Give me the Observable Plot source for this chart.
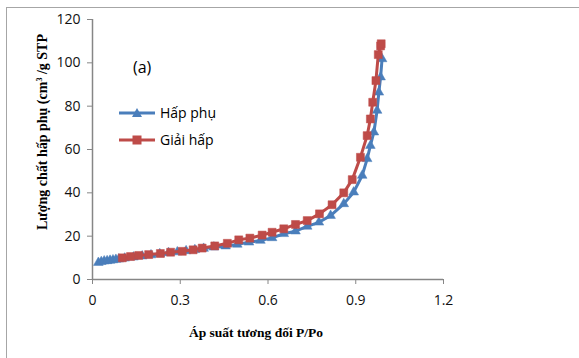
<!DOCTYPE html>
<html>
<head>
<meta charset="utf-8">
<script src="https://cdn.jsdelivr.net/npm/d3@7"></script>
<script src="https://cdn.jsdelivr.net/npm/@observablehq/plot@0.6"></script>
<style>
  body { margin: 0; background: #fff; }
  #wrap { position: relative; width: 579px; height: 358px; overflow: hidden; background: #fff; }
  #frame { position: absolute; left: 6px; top: 7px; width: 600px; height: 400px; border-left: 1.5px solid #a6a6a6; border-top: 1.5px solid #a6a6a6; }
  #chart { position: absolute; left: 0; top: 0; }
  .ylab { position: absolute; left: 43px; top: 132px; transform: translate(-50%, -50%) rotate(-90deg); white-space: nowrap;
          font: bold 14px "Liberation Serif", "DejaVu Serif", serif; color: #000; }
  .xlab { position: absolute; left: 256px; top: 333px; transform: translate(-50%, -50%); white-space: nowrap;
          font: bold 13.5px "Liberation Serif", "DejaVu Serif", serif; color: #000; }
  .tag { position: absolute; left: 133px; top: 56px; font: 16px "Open Sans", "Liberation Sans", sans-serif; color: #000; }
  .legend { position: absolute; left: 118px; top: 99px; font: 14px "Open Sans", "Liberation Sans", sans-serif; color: #000; }
  .legend div { display: flex; align-items: center; height: 27px; }
  .legend svg { margin-right: 4px; }
</style>
</head>
<body>
<div id="wrap">
  <div id="frame"></div>
  <div id="chart"></div>
  <div class="ylab">Lượng chất hấp phụ (cm<sup style="font-size:8px">3</sup> /g STP</div>
  <div class="xlab">Áp suất tương đối P/Po</div>
  <div class="tag">(a)</div>
  <div class="legend" id="legend"></div>
</div>
<script>
// Series names
const seriesNames = ["Hấp phụ", "Giải hấp"];
// Adsorption (Hấp phụ)
const adsX = [0.02,0.03,0.04,0.05,0.06,0.07,0.08,0.09,0.11,0.14,0.17,0.20,0.23,0.26,0.29,0.32,0.35,0.38,0.415,0.455,0.495,0.535,0.574,0.614,0.654,0.694,0.734,0.774,0.814,0.859,0.893,0.922,0.939,0.950,0.962,0.973,0.979,0.985,0.990];
const adsY = [7.8,8.2,8.5,8.6,8.8,9.0,9.2,9.4,9.8,10.3,10.8,11.3,11.8,12.3,12.7,13.2,13.7,14.3,14.9,15.4,16.2,17.2,18.0,19.2,21.1,22.3,24.5,26.4,29.5,34.9,40.3,48.0,55.7,61.8,68.0,78.0,86.4,93.4,101.8];
// Desorption (Giải hấp)
const desX = [0.102,0.130,0.158,0.192,0.232,0.267,0.307,0.344,0.375,0.418,0.461,0.500,0.538,0.580,0.614,0.654,0.694,0.734,0.776,0.819,0.859,0.888,0.916,0.939,0.950,0.958,0.969,0.977,0.985,0.987];
const desY = [10.0,10.6,11.1,11.5,12.0,12.6,13.0,13.7,14.5,15.5,16.7,18.3,19.1,20.5,21.8,23.4,25.4,27.2,30.3,34.5,40.0,46.1,56.4,66.4,74.1,81.8,91.8,103.8,107.8,108.8];
// Tick labels
const xTicks = [0, 0.3, 0.6, 0.9, 1.2];
const yTicks = [0, 20, 40, 60, 80, 100, 120];

const blue = "#4A7EBB", red = "#BE4B48", axisGray = "#868686";
const ads = adsX.map((x, i) => ({x, y: adsY[i]}));
const des = desX.map((x, i) => ({x, y: desY[i]}));

const chart = Plot.plot({
  width: 579, height: 358,
  marginLeft: 92, marginRight: 136, marginTop: 19, marginBottom: 79,
  style: {fontFamily: '"Open Sans", "Liberation Sans", sans-serif', fontSize: "14px", color: "#111", background: "transparent"},
  x: {domain: [0, 1.2], label: null},
  y: {domain: [0, 120], label: null},
  marks: [
    Plot.axisX({ticks: xTicks, tickSize: 5, tickPadding: 11, stroke: axisGray, tickFormat: d => String(d), label: null}),
    Plot.axisY({ticks: yTicks, tickSize: 5, tickPadding: 7, stroke: axisGray, label: null}),
    Plot.ruleX([0], {stroke: axisGray, strokeWidth: 1.5}),
    Plot.ruleY([0], {stroke: axisGray, strokeWidth: 1.5}),
    Plot.line(ads, {x: "x", y: "y", stroke: blue, strokeWidth: 3}),
    Plot.dot(ads, {x: "x", y: "y", symbol: "triangle", r: 3.6, fill: blue, stroke: blue, strokeWidth: 0.5}),
    Plot.line(des, {x: "x", y: "y", stroke: red, strokeWidth: 3}),
    Plot.dot(des, {x: "x", y: "y", symbol: "square", r: 4.5, fill: red, stroke: red, strokeWidth: 0.5})
  ]
});
document.getElementById("chart").append(chart);

// Legend
const legend = document.getElementById("legend");
const swatches = [
  `<svg width="38" height="12"><line x1="1" y1="6" x2="37" y2="6" stroke="${blue}" stroke-width="3"/><path d="M19,1 L24,10 L14,10 Z" fill="${blue}"/></svg>`,
  `<svg width="38" height="12"><line x1="1" y1="6" x2="37" y2="6" stroke="${red}" stroke-width="3"/><rect x="14.5" y="1.5" width="9" height="9" fill="${red}"/></svg>`
];
seriesNames.forEach((n, i) => {
  const d = document.createElement("div");
  d.innerHTML = swatches[i] + `<span>${n}</span>`;
  legend.append(d);
});
</script>
</body>
</html>
